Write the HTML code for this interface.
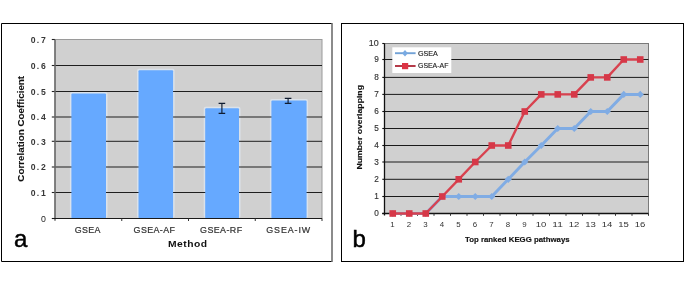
<!DOCTYPE html>
<html><head><meta charset="utf-8"><style>
html,body{margin:0;padding:0;background:#fff;width:685px;height:301px;overflow:hidden}
svg{display:block}
text{filter:grayscale(1);font-family:"Liberation Sans",sans-serif}
.yl{font-size:8.9px;fill:#383838;font-weight:bold}
.y0{font-size:9px;fill:#222}
.xl{font-size:8.9px;fill:#333;stroke:#333;stroke-width:0.22px}
.tt{font-size:8.3px;font-weight:bold;fill:#111;stroke:#111;stroke-width:0.1px}
.tm{font-size:8.6px;font-weight:bold;fill:#111}
.yr{font-size:8.2px;fill:#333;stroke:#333;stroke-width:0.15px}
.xr{font-size:7.9px;fill:#333}
.lg{font-size:7.5px;fill:#222;stroke:#222;stroke-width:0.15px}
.tr{font-size:8.1px;font-weight:bold;fill:#111;stroke:#111;stroke-width:0.15px}
.big{font-size:24px;fill:#000;stroke:#000;stroke-width:0.5px}
</style></head><body>
<svg width="685" height="301" viewBox="0 0 685 301"><g opacity="0.999">
<path d="M332 23.5H1.5V261.5H332" fill="#fff" stroke="#000" stroke-width="1"/>
<line x1="332" y1="23" x2="332" y2="262" stroke="#6e6e6e" stroke-width="1.6"/>
<rect x="55.0" y="39.5" width="267.0" height="179.0" fill="#d0d0d0" stroke="#9a9a9a" stroke-width="1"/>
<rect x="69.90" y="92.00" width="37.60" height="126.00" rx="2" fill="#dbe2ea"/>
<rect x="137.00" y="68.80" width="37.60" height="149.20" rx="2" fill="#dbe2ea"/>
<rect x="203.70" y="106.70" width="36.80" height="111.30" rx="2" fill="#dbe2ea"/>
<rect x="269.90" y="99.10" width="38.20" height="118.90" rx="2" fill="#dbe2ea"/>
<line x1="55.0" y1="192.50" x2="322.0" y2="192.50" stroke="#1e1e1e" stroke-width="1"/>
<line x1="55.0" y1="167.00" x2="322.0" y2="167.00" stroke="#1e1e1e" stroke-width="1"/>
<line x1="55.0" y1="141.30" x2="322.0" y2="141.30" stroke="#1e1e1e" stroke-width="1"/>
<line x1="55.0" y1="117.00" x2="322.0" y2="117.00" stroke="#1e1e1e" stroke-width="1"/>
<line x1="55.0" y1="91.50" x2="322.0" y2="91.50" stroke="#1e1e1e" stroke-width="1"/>
<line x1="55.0" y1="65.50" x2="322.0" y2="65.50" stroke="#1e1e1e" stroke-width="1"/>
<line x1="51.8" y1="218.50" x2="55.0" y2="218.50" stroke="#222" stroke-width="1.1"/>
<text x="41.0" y="221.50" class="y0" textLength="4.9" lengthAdjust="spacingAndGlyphs">0</text>
<line x1="51.8" y1="192.50" x2="55.0" y2="192.50" stroke="#222" stroke-width="1.1"/>
<text transform="translate(30.7 195.75) scale(0.97 1)" class="yl"><tspan x="0">0</tspan><tspan x="6.29">.</tspan><tspan x="10.72">1</tspan></text>
<line x1="51.8" y1="167.00" x2="55.0" y2="167.00" stroke="#222" stroke-width="1.1"/>
<text transform="translate(30.7 170.25) scale(0.97 1)" class="yl"><tspan x="0">0</tspan><tspan x="6.29">.</tspan><tspan x="10.72">2</tspan></text>
<line x1="51.8" y1="141.30" x2="55.0" y2="141.30" stroke="#222" stroke-width="1.1"/>
<text transform="translate(30.7 144.55) scale(0.97 1)" class="yl"><tspan x="0">0</tspan><tspan x="6.29">.</tspan><tspan x="10.72">3</tspan></text>
<line x1="51.8" y1="117.00" x2="55.0" y2="117.00" stroke="#222" stroke-width="1.1"/>
<text transform="translate(30.7 120.25) scale(0.97 1)" class="yl"><tspan x="0">0</tspan><tspan x="6.29">.</tspan><tspan x="10.72">4</tspan></text>
<line x1="51.8" y1="91.50" x2="55.0" y2="91.50" stroke="#222" stroke-width="1.1"/>
<text transform="translate(30.7 94.75) scale(0.97 1)" class="yl"><tspan x="0">0</tspan><tspan x="6.29">.</tspan><tspan x="10.72">5</tspan></text>
<line x1="51.8" y1="65.50" x2="55.0" y2="65.50" stroke="#222" stroke-width="1.1"/>
<text transform="translate(30.7 68.75) scale(0.97 1)" class="yl"><tspan x="0">0</tspan><tspan x="6.29">.</tspan><tspan x="10.72">6</tspan></text>
<line x1="51.8" y1="39.50" x2="55.0" y2="39.50" stroke="#222" stroke-width="1.1"/>
<text transform="translate(30.7 42.75) scale(0.97 1)" class="yl"><tspan x="0">0</tspan><tspan x="6.29">.</tspan><tspan x="10.72">7</tspan></text>
<rect x="71.4" y="93.50" width="34.60" height="125.00" rx="1" fill="#66a9ff"/>
<rect x="138.5" y="70.30" width="34.60" height="148.20" rx="1" fill="#66a9ff"/>
<rect x="205.2" y="108.20" width="33.80" height="110.30" rx="1" fill="#66a9ff"/>
<rect x="271.4" y="100.60" width="35.20" height="117.90" rx="1" fill="#66a9ff"/>
<line x1="55.0" y1="39.5" x2="55.0" y2="220.8" stroke="#6a6a6a" stroke-width="1.5"/>
<line x1="52" y1="218.5" x2="322.0" y2="218.5" stroke="#1a1a1a" stroke-width="1.2"/>
<line x1="121.75" y1="218.5" x2="121.75" y2="221" stroke="#333" stroke-width="1"/>
<line x1="188.50" y1="218.5" x2="188.50" y2="221" stroke="#333" stroke-width="1"/>
<line x1="255.25" y1="218.5" x2="255.25" y2="221" stroke="#333" stroke-width="1"/>
<line x1="322.00" y1="218.5" x2="322.00" y2="221" stroke="#333" stroke-width="1"/>
<path d="M218.60 103.4H225.20M221.90 103.4V113.4M218.60 113.4H225.20" stroke="#101c30" stroke-width="1.15" fill="none"/>
<path d="M284.80 98.4H291.40M288.10 98.4V103.3M284.80 103.3H291.40" stroke="#101c30" stroke-width="1.15" fill="none"/>
<text x="87.50" y="232.70" class="xl" text-anchor="middle" textLength="25.6" lengthAdjust="spacing">GSEA</text>
<text x="154.25" y="232.70" class="xl" text-anchor="middle" textLength="41.3" lengthAdjust="spacing">GSEA-AF</text>
<text x="221.10" y="232.70" class="xl" text-anchor="middle" textLength="42.0" lengthAdjust="spacing">GSEA-RF</text>
<text x="288.25" y="232.70" class="xl" text-anchor="middle" textLength="43.9" lengthAdjust="spacing">GSEA-IW</text>
<text transform="translate(187.5 246.5) scale(1.2 1)" class="tm" text-anchor="middle" textLength="32.42" lengthAdjust="spacing">Method</text>
<text transform="translate(24.1 128.8) rotate(-90)" class="tt" text-anchor="middle" textLength="105.8" lengthAdjust="spacingAndGlyphs">Correlation Coefficient</text>
<text x="14" y="247" class="big">a</text>
<rect x="341.5" y="23.5" width="342" height="238" fill="#fff" stroke="#000" stroke-width="1"/>
<rect x="384.5" y="43.5" width="264.0" height="170.0" fill="#d0d0d0" stroke="#7a7a7a" stroke-width="1"/>
<line x1="384.5" y1="196.50" x2="648.5" y2="196.50" stroke="#1a1a1a" stroke-width="1"/>
<line x1="384.5" y1="179.30" x2="648.5" y2="179.30" stroke="#1a1a1a" stroke-width="1"/>
<line x1="384.5" y1="162.00" x2="648.5" y2="162.00" stroke="#1a1a1a" stroke-width="1"/>
<line x1="384.5" y1="145.50" x2="648.5" y2="145.50" stroke="#1a1a1a" stroke-width="1"/>
<line x1="384.5" y1="128.50" x2="648.5" y2="128.50" stroke="#1a1a1a" stroke-width="1"/>
<line x1="384.5" y1="111.50" x2="648.5" y2="111.50" stroke="#1a1a1a" stroke-width="1"/>
<line x1="384.5" y1="94.40" x2="648.5" y2="94.40" stroke="#1a1a1a" stroke-width="1"/>
<line x1="384.5" y1="77.40" x2="648.5" y2="77.40" stroke="#1a1a1a" stroke-width="1"/>
<line x1="384.5" y1="59.50" x2="648.5" y2="59.50" stroke="#1a1a1a" stroke-width="1"/>
<line x1="382.3" y1="213.50" x2="384.5" y2="213.50" stroke="#111" stroke-width="1.1"/>
<text x="378.70" y="216.40" class="yr" text-anchor="end">0</text>
<line x1="382.3" y1="196.50" x2="384.5" y2="196.50" stroke="#111" stroke-width="1.1"/>
<text x="378.70" y="199.40" class="yr" text-anchor="end">1</text>
<line x1="382.3" y1="179.30" x2="384.5" y2="179.30" stroke="#111" stroke-width="1.1"/>
<text x="378.70" y="182.20" class="yr" text-anchor="end">2</text>
<line x1="382.3" y1="162.00" x2="384.5" y2="162.00" stroke="#111" stroke-width="1.1"/>
<text x="378.70" y="164.90" class="yr" text-anchor="end">3</text>
<line x1="382.3" y1="145.50" x2="384.5" y2="145.50" stroke="#111" stroke-width="1.1"/>
<text x="378.70" y="148.40" class="yr" text-anchor="end">4</text>
<line x1="382.3" y1="128.50" x2="384.5" y2="128.50" stroke="#111" stroke-width="1.1"/>
<text x="378.70" y="131.40" class="yr" text-anchor="end">5</text>
<line x1="382.3" y1="111.50" x2="384.5" y2="111.50" stroke="#111" stroke-width="1.1"/>
<text x="378.70" y="114.40" class="yr" text-anchor="end">6</text>
<line x1="382.3" y1="94.40" x2="384.5" y2="94.40" stroke="#111" stroke-width="1.1"/>
<text x="378.70" y="97.30" class="yr" text-anchor="end">7</text>
<line x1="382.3" y1="77.40" x2="384.5" y2="77.40" stroke="#111" stroke-width="1.1"/>
<text x="378.70" y="80.30" class="yr" text-anchor="end">8</text>
<line x1="382.3" y1="59.50" x2="384.5" y2="59.50" stroke="#111" stroke-width="1.1"/>
<text x="378.70" y="62.40" class="yr" text-anchor="end">9</text>
<line x1="382.3" y1="43.50" x2="384.5" y2="43.50" stroke="#111" stroke-width="1.1"/>
<text x="378.70" y="46.40" class="yr" text-anchor="end" textLength="9.9" lengthAdjust="spacingAndGlyphs">10</text>
<line x1="384.5" y1="43.5" x2="384.5" y2="215.5" stroke="#111" stroke-width="1.3"/>
<line x1="382.3" y1="213.5" x2="648.5" y2="213.5" stroke="#111" stroke-width="1.3"/>
<line x1="401.00" y1="213.5" x2="401.00" y2="215.8" stroke="#333" stroke-width="1"/>
<line x1="417.50" y1="213.5" x2="417.50" y2="215.8" stroke="#333" stroke-width="1"/>
<line x1="434.00" y1="213.5" x2="434.00" y2="215.8" stroke="#333" stroke-width="1"/>
<line x1="450.50" y1="213.5" x2="450.50" y2="215.8" stroke="#333" stroke-width="1"/>
<line x1="467.00" y1="213.5" x2="467.00" y2="215.8" stroke="#333" stroke-width="1"/>
<line x1="483.50" y1="213.5" x2="483.50" y2="215.8" stroke="#333" stroke-width="1"/>
<line x1="500.00" y1="213.5" x2="500.00" y2="215.8" stroke="#333" stroke-width="1"/>
<line x1="516.50" y1="213.5" x2="516.50" y2="215.8" stroke="#333" stroke-width="1"/>
<line x1="533.00" y1="213.5" x2="533.00" y2="215.8" stroke="#333" stroke-width="1"/>
<line x1="549.50" y1="213.5" x2="549.50" y2="215.8" stroke="#333" stroke-width="1"/>
<line x1="566.00" y1="213.5" x2="566.00" y2="215.8" stroke="#333" stroke-width="1"/>
<line x1="582.50" y1="213.5" x2="582.50" y2="215.8" stroke="#333" stroke-width="1"/>
<line x1="599.00" y1="213.5" x2="599.00" y2="215.8" stroke="#333" stroke-width="1"/>
<line x1="615.50" y1="213.5" x2="615.50" y2="215.8" stroke="#333" stroke-width="1"/>
<line x1="632.00" y1="213.5" x2="632.00" y2="215.8" stroke="#333" stroke-width="1"/>
<line x1="648.50" y1="213.5" x2="648.50" y2="215.8" stroke="#333" stroke-width="1"/>
<text x="392.55" y="227.00" class="xr" text-anchor="middle">1</text>
<text x="409.05" y="227.00" class="xr" text-anchor="middle">2</text>
<text x="425.55" y="227.00" class="xr" text-anchor="middle">3</text>
<text x="442.05" y="227.00" class="xr" text-anchor="middle">4</text>
<text x="458.55" y="227.00" class="xr" text-anchor="middle">5</text>
<text x="475.05" y="227.00" class="xr" text-anchor="middle">6</text>
<text x="491.55" y="227.00" class="xr" text-anchor="middle">7</text>
<text x="508.05" y="227.00" class="xr" text-anchor="middle">8</text>
<text x="524.55" y="227.00" class="xr" text-anchor="middle">9</text>
<text x="541.05" y="227.00" class="xr" text-anchor="middle" textLength="10.6" lengthAdjust="spacingAndGlyphs">10</text>
<text x="557.55" y="227.00" class="xr" text-anchor="middle" textLength="10.6" lengthAdjust="spacingAndGlyphs">11</text>
<text x="574.05" y="227.00" class="xr" text-anchor="middle" textLength="10.6" lengthAdjust="spacingAndGlyphs">12</text>
<text x="590.55" y="227.00" class="xr" text-anchor="middle" textLength="10.6" lengthAdjust="spacingAndGlyphs">13</text>
<text x="607.05" y="227.00" class="xr" text-anchor="middle" textLength="10.6" lengthAdjust="spacingAndGlyphs">14</text>
<text x="623.55" y="227.00" class="xr" text-anchor="middle" textLength="10.6" lengthAdjust="spacingAndGlyphs">15</text>
<text x="640.05" y="227.00" class="xr" text-anchor="middle" textLength="10.6" lengthAdjust="spacingAndGlyphs">16</text>
<polyline points="392.75,213.50 409.25,213.50 425.75,213.50 442.25,196.50 458.75,196.50 475.25,196.50 491.75,196.50 508.25,179.30 524.75,162.00 541.25,145.50 557.75,128.50 574.25,128.50 590.75,111.50 607.25,111.50 623.75,94.40 640.25,94.40" fill="none" stroke="#80ace4" stroke-width="3.0" stroke-linejoin="round"/>
<path d="M392.75 209.90L396.35 213.50L392.75 217.10L389.15 213.50Z" fill="#80ace4"/>
<path d="M409.25 209.90L412.85 213.50L409.25 217.10L405.65 213.50Z" fill="#80ace4"/>
<path d="M425.75 209.90L429.35 213.50L425.75 217.10L422.15 213.50Z" fill="#80ace4"/>
<path d="M442.25 192.90L445.85 196.50L442.25 200.10L438.65 196.50Z" fill="#80ace4"/>
<path d="M458.75 192.90L462.35 196.50L458.75 200.10L455.15 196.50Z" fill="#80ace4"/>
<path d="M475.25 192.90L478.85 196.50L475.25 200.10L471.65 196.50Z" fill="#80ace4"/>
<path d="M491.75 192.90L495.35 196.50L491.75 200.10L488.15 196.50Z" fill="#80ace4"/>
<path d="M508.25 175.70L511.85 179.30L508.25 182.90L504.65 179.30Z" fill="#80ace4"/>
<path d="M524.75 158.40L528.35 162.00L524.75 165.60L521.15 162.00Z" fill="#80ace4"/>
<path d="M541.25 141.90L544.85 145.50L541.25 149.10L537.65 145.50Z" fill="#80ace4"/>
<path d="M557.75 124.90L561.35 128.50L557.75 132.10L554.15 128.50Z" fill="#80ace4"/>
<path d="M574.25 124.90L577.85 128.50L574.25 132.10L570.65 128.50Z" fill="#80ace4"/>
<path d="M590.75 107.90L594.35 111.50L590.75 115.10L587.15 111.50Z" fill="#80ace4"/>
<path d="M607.25 107.90L610.85 111.50L607.25 115.10L603.65 111.50Z" fill="#80ace4"/>
<path d="M623.75 90.80L627.35 94.40L623.75 98.00L620.15 94.40Z" fill="#80ace4"/>
<path d="M640.25 90.80L643.85 94.40L640.25 98.00L636.65 94.40Z" fill="#80ace4"/>
<polyline points="392.75,213.50 409.25,213.50 425.75,213.50 442.25,196.50 458.75,179.30 475.25,162.00 491.75,145.50 508.25,145.50 524.75,111.50 541.25,94.40 557.75,94.40 574.25,94.40 590.75,77.40 607.25,77.40 623.75,59.50 640.25,59.50" fill="none" stroke="#d8424f" stroke-width="2.4" stroke-linejoin="round"/>
<rect x="389.45" y="210.20" width="6.6" height="6.6" fill="#d63848"/>
<rect x="405.95" y="210.20" width="6.6" height="6.6" fill="#d63848"/>
<rect x="422.45" y="210.20" width="6.6" height="6.6" fill="#d63848"/>
<rect x="438.95" y="193.20" width="6.6" height="6.6" fill="#d63848"/>
<rect x="455.45" y="176.00" width="6.6" height="6.6" fill="#d63848"/>
<rect x="471.95" y="158.70" width="6.6" height="6.6" fill="#d63848"/>
<rect x="488.45" y="142.20" width="6.6" height="6.6" fill="#d63848"/>
<rect x="504.95" y="142.20" width="6.6" height="6.6" fill="#d63848"/>
<rect x="521.45" y="108.20" width="6.6" height="6.6" fill="#d63848"/>
<rect x="537.95" y="91.10" width="6.6" height="6.6" fill="#d63848"/>
<rect x="554.45" y="91.10" width="6.6" height="6.6" fill="#d63848"/>
<rect x="570.95" y="91.10" width="6.6" height="6.6" fill="#d63848"/>
<rect x="587.45" y="74.10" width="6.6" height="6.6" fill="#d63848"/>
<rect x="603.95" y="74.10" width="6.6" height="6.6" fill="#d63848"/>
<rect x="620.45" y="56.20" width="6.6" height="6.6" fill="#d63848"/>
<rect x="636.95" y="56.20" width="6.6" height="6.6" fill="#d63848"/>
<rect x="392.3" y="47.3" width="59" height="25.7" fill="#fff"/>
<line x1="395" y1="53.2" x2="415.6" y2="53.2" stroke="#72a2d6" stroke-width="1.9"/>
<path d="M405.0 49.9L407.9 53.2L405.0 56.5L402.1 53.2Z" fill="#78aae2"/>
<line x1="395" y1="66" x2="415.6" y2="66" stroke="#b03040" stroke-width="1.9"/>
<rect x="402.0" y="63.0" width="6.2" height="6.2" fill="#dc3444"/>
<text x="418.00" y="56.00" class="lg" textLength="19.9" lengthAdjust="spacingAndGlyphs">GSEA</text>
<text x="418.00" y="67.90" class="lg" textLength="30.4" lengthAdjust="spacingAndGlyphs">GSEA-AF</text>
<text x="465.00" y="242.40" class="tr" textLength="104.6" lengthAdjust="spacingAndGlyphs">Top ranked KEGG pathways</text>
<text transform="translate(362.4 127.3) rotate(-90)" class="tr" text-anchor="middle" textLength="84.6" lengthAdjust="spacingAndGlyphs">Number overlapping</text>
<text x="352.5" y="246.7" class="big">b</text>
</g></svg>
</body></html>
